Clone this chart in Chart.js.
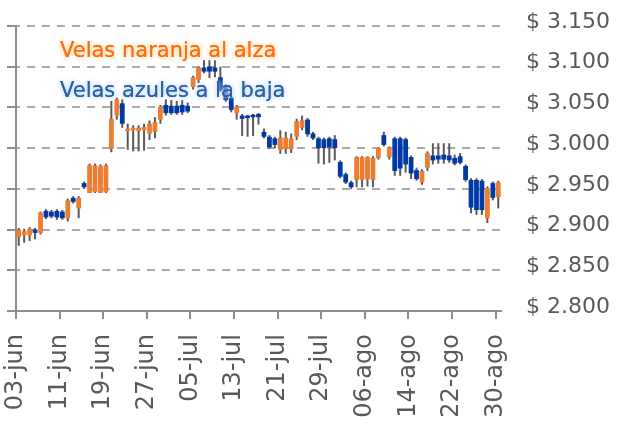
<!DOCTYPE html>
<html>
<head>
<meta charset="utf-8">
<script src="https://cdn.jsdelivr.net/npm/chart.js@4.4.0/dist/chart.umd.min.js"></script>
<style>
  html, body { margin: 0; padding: 0; background: #fff; }
</style>
</head>
<body>
<canvas id="velas" width="619" height="424"></canvas>
<script>
// --- DATOS (un valor por día calendario desde el 03-jun) ---
const etiquetasX = ['03-jun', '11-jun', '19-jun', '27-jun', '05-jul', '13-jul', '21-jul', '29-jul', '06-ago', '14-ago', '22-ago', '30-ago'];

const apertura = [
  2891, 2893, 2893, 2900, 2896, 2923, 2922, 2923, 2922, 2914,
  2939, 2926, 2957, 2945, 2946, 2945, 2946, 2999, 3040, 3055,
  3021, 3022, 3021, 3022, 3018, 3020, 3035, 3053, 3052, 3052,
  3053, 3052, 3075, 3084, 3099, 3100, 3099, 3087, 3075, 3062,
  3043, 3040, 3040, 3041, 3042, 3020, 3014, 3012, 2998, 2999,
  2999, 3014, 3025, 3035, 3018, 3012, 3011, 3012, 3011, 2983,
  2968, 2958, 2961, 2961, 2962, 2961, 2988, 3016, 2989, 3012,
  3012, 3011, 2989, 2973, 2958, 2976, 2991, 2991, 2992, 2991,
  2988, 2990, 2978, 2961, 2961, 2960, 2914, 2957, 2940
];
const maximo = [
  2902, 2901, 2903, 2902, 2922, 2925, 2924, 2925, 2924, 2938,
  2941, 2941, 2959, 2981, 2981, 2980, 2981, 3058, 3062, 3060,
  3030, 3028, 3028, 3030, 3034, 3038, 3053, 3060, 3059, 3058,
  3059, 3056, 3089, 3100, 3108, 3108, 3108, 3100, 3078, 3064,
  3053, 3042, 3041, 3042, 3043, 3024, 3016, 3014, 3022, 3020,
  3018, 3036, 3040, 3037, 3020, 3014, 3013, 3014, 3016, 2985,
  2970, 2960, 2990, 2990, 2990, 2990, 3001, 3020, 3002, 3014,
  3014, 3013, 2991, 2976, 2974, 2996, 3006, 3006, 3006, 3006,
  2992, 2994, 2980, 2963, 2963, 2962, 2953, 2959, 2960
];
const minimo = [
  2880, 2884, 2886, 2888, 2894, 2913, 2914, 2912, 2912, 2910,
  2932, 2914, 2950, 2945, 2945, 2945, 2945, 2995, 3035, 3025,
  2998, 2996, 2996, 2997, 3010, 3012, 3030, 3040, 3041, 3041,
  3041, 3043, 3072, 3080, 3092, 3086, 3087, 3069, 3057, 3044,
  3035, 3015, 3014, 3015, 3029, 3012, 2999, 3000, 2993, 2993,
  2994, 3010, 3022, 3014, 3010, 2981, 2980, 2982, 2985, 2963,
  2956, 2950, 2952, 2952, 2953, 2952, 2986, 3002, 2986, 2966,
  2966, 2970, 2962, 2960, 2955, 2972, 2980, 2981, 2981, 2982,
  2979, 2980, 2959, 2920, 2918, 2918, 2908, 2936, 2926
];
const cierre = [
  2900, 2898, 2901, 2896, 2921, 2915, 2916, 2915, 2914, 2936,
  2934, 2939, 2952, 2979, 2979, 2978, 2979, 3036, 3060, 3030,
  3024, 3025, 3025, 3026, 3030, 3032, 3051, 3043, 3043, 3043,
  3044, 3045, 3087, 3099, 3094, 3094, 3094, 3071, 3059, 3047,
  3051, 3036, 3037, 3038, 3038, 3014, 3001, 3004, 3013, 3013,
  3012, 3033, 3034, 3017, 3012, 3000, 3000, 3001, 3000, 2965,
  2958, 2952, 2989, 2989, 2989, 2988, 3000, 3004, 3001, 2972,
  2975, 2980, 2969, 2962, 2972, 2994, 2985, 2986, 2986, 2985,
  2981, 2982, 2961, 2927, 2924, 2924, 2951, 2939, 2958
];

const leyendas = [
  { texto: 'Velas naranja al alza', color: '#FF6A12', brillo: 'rgba(255, 215, 150, 0.95)' },
  { texto: 'Velas azules a la baja', color: '#2D5E9E', brillo: 'rgba(185, 215, 255, 0.95)' }
];

// --- ESTILOS ---
const NARANJA = '#ED7D31';
const AZUL = '#0039A6';
const MECHA = '#5A5A5A';
const GRIS_EJE = '#8E8E8E';
const GRIS_TEXTO = '#595959';
const FUENTE = '"DejaVu Sans", "Liberation Sans", sans-serif';

// Cuerpos y mechas desde los arrays
const cuerpos = apertura.map((o, i) => ({ x: i + 0.5, y: [o, cierre[i]] }));
const mechas = maximo.map((h, i) => ({ x: i + 0.5, y: [minimo[i], h] }));
const coloresCuerpo = apertura.map((o, i) => cierre[i] >= o ? NARANJA : AZUL);

function formatoPesos(v) {
  const miles = Math.floor(v / 1000);
  const resto = String(v % 1000).padStart(3, '0');
  return '$ ' + miles + '.' + resto;
}

const textoVelas = {
  id: 'textoVelas',
  afterDatasetsDraw(chart) {
    const ctx = chart.ctx;
    ctx.save();
    ctx.font = '21px ' + FUENTE;
    ctx.textBaseline = 'alphabetic';
    ctx.textAlign = 'left';
    leyendas.forEach((l, i) => {
      ctx.shadowColor = l.brillo;
      ctx.shadowBlur = 4;
      ctx.fillStyle = l.color;
      ctx.fillText(l.texto, 60, 57 + i * 40);
      ctx.fillText(l.texto, 60, 57 + i * 40);
    });
    ctx.restore();
  }
};

new Chart(document.getElementById('velas'), {
  type: 'bar',
  data: {
    datasets: [
      {
        label: 'Cuerpo',
        data: cuerpos,
        backgroundColor: coloresCuerpo,
        borderWidth: 0,
        grouped: false,
        barPercentage: 1,
        categoryPercentage: 0.88,
        yAxisID: 'y'
      },
      {
        label: 'Mecha',
        data: mechas,
        backgroundColor: MECHA,
        borderWidth: 0,
        grouped: false,
        maxBarThickness: 2,
        yAxisID: 'y'
      }
    ]
  },
  options: {
    responsive: false,
    animation: false,
    layout: { padding: { top: 26, left: 0, right: 0, bottom: 0 } },
    plugins: {
      legend: { display: false },
      tooltip: { enabled: false }
    },
    scales: {
      x: {
        type: 'linear',
        min: 0,
        max: 89,
        offset: false,
        afterBuildTicks: (s) => { s.ticks = etiquetasX.map((t, i) => ({ value: i * 8 })); },
        afterFit: (s) => { s.height = 113; },
        grid: { offset: false, drawOnChartArea: false, drawTicks: true, tickLength: 8, color: GRIS_EJE, lineWidth: 2 },
        border: { display: true, color: GRIS_EJE, width: 2 },
        ticks: {
          autoSkip: false,
          minRotation: 90,
          maxRotation: 90,
          padding: 15,
          color: GRIS_TEXTO,
          font: { family: FUENTE, size: 24 },
          callback: (v) => etiquetasX[Math.round(v / 8)]
        }
      },
      yL: {
        type: 'linear',
        position: 'left',
        min: 2800,
        max: 3150,
        beginAtZero: false,
        afterFit: (s) => { s.width = 16; s.paddingTop = 0; s.paddingBottom = 0; },
        ticks: { display: false, stepSize: 50 },
        grid: { drawOnChartArea: false, drawTicks: true, tickLength: 9, color: GRIS_EJE, lineWidth: 2 },
        border: { display: true, color: GRIS_EJE, width: 2 }
      },
      y: {
        type: 'linear',
        position: 'right',
        min: 2800,
        max: 3150,
        beginAtZero: false,
        afterFit: (s) => { s.width = 118; s.paddingTop = 0; s.paddingBottom = 0; },
        grid: { drawOnChartArea: true, drawTicks: false, color: '#ABABAB', lineWidth: 2 },
        border: { display: false, dash: [8, 7], dashOffset: 4 },
        ticks: {
          stepSize: 50,
          padding: 25,
          labelOffset: -4,
          color: GRIS_TEXTO,
          font: { family: FUENTE, size: 22 },
          callback: (v) => formatoPesos(v)
        }
      }
    }
  },
  plugins: [textoVelas]
});
</script>
</body>
</html>
